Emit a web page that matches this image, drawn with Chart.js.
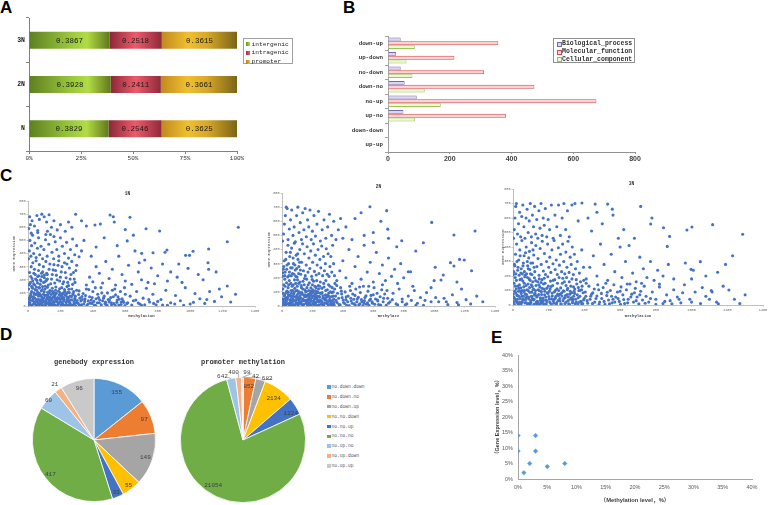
<!DOCTYPE html>
<html>
<head>
<meta charset="utf-8">
<script src="https://cdn.jsdelivr.net/npm/chart.js"></script>
<style>
body { margin: 0; background: #fff; }
#wrap { position: relative; width: 778px; height: 505px; overflow: hidden; font-family: "Liberation Mono", monospace; }
canvas { position: absolute; }
.tag { position: absolute; font: bold 17px "Liberation Sans", Arial, sans-serif; color: #000; }
.leg { position: absolute; box-sizing: border-box; }
.leg div { position: absolute; white-space: nowrap; }
.leg span { position: absolute; box-sizing: border-box; }
</style>
</head>
<body>
<div id="wrap">
  <div class="tag" style="left:0;top:-2px">A</div>
  <div class="tag" style="left:343px;top:-2px">B</div>
  <div class="tag" style="left:0;top:166px">C</div>
  <div class="tag" style="left:0;top:325px">D</div>
  <div class="tag" style="left:491px;top:328px">E</div>

  <canvas id="cA" width="300" height="165" style="left:0;top:0"></canvas>
  <canvas id="cB" width="300" height="165" style="left:345px;top:0"></canvas>
  <canvas id="c1" width="262" height="142" style="left:0;top:178px"></canvas>
  <canvas id="c2" width="240" height="145" style="left:262px;top:175px"></canvas>
  <canvas id="c3" width="278" height="150" style="left:500px;top:170px"></canvas>
  <canvas id="cD1" width="144" height="155" style="left:22px;top:350px"></canvas>
  <canvas id="cD2" width="146" height="155" style="left:170px;top:350px"></canvas>
  <canvas id="cE" width="298" height="165" style="left:480px;top:340px"></canvas>

  <div id="legA" class="leg" style="left:243px;top:38px;width:50px;height:26px;border:1px solid #a0a0a0"></div>
  <div id="legB" class="leg" style="left:553px;top:38px;width:82px;height:25px;border:1px solid #909090"></div>
  <div id="legD" class="leg" style="left:326px;top:383px;width:60px;height:90px"></div>
</div>
<script>
const MONO = '"Liberation Mono", "DejaVu Sans Mono", monospace';
const SANS = '"Liberation Sans", Arial, sans-serif';

// ---- A: methylation distribution ----
const aCats = ['3N', '2N', 'N'];
const aSeries = ['intergenic', 'intragenic', 'promoter'];
const aIntergenic = [0.3867, 0.3928, 0.3829];
const aIntragenic = [0.2518, 0.2411, 0.2546];
const aPromoter = [0.3615, 0.3661, 0.3625];
const aTicks = ['0%', '25%', '50%', '75%', '100%'];

// ---- B: GO terms ----
const bCats = ['down-up', 'up-down', 'no-down', 'down-no', 'no-up', 'up-no', 'down-down', 'up-up'];
const bSeries = ['Biological_process', 'Molecular_function', 'Cellular_component'];
const bBio = [41, 26, 41, 54, 93, 50, 0, 0];
const bMol = [357, 215, 311, 474, 675, 382, 0, 4];
const bCel = [87, 60, 79, 119, 171, 87, 0, 0];

// ---- C: methylation vs expression ----
const pts1N = [
[5,10],[12,25],[20,5],[28,40],[35,18],[42,60],[50,8],[58,32],[65,75],[72,12],[80,48],[88,22],[95,90],[102,6],[110,38],[118,65],[125,15],[132,102],[140,44],[148,8],[155,70],[162,28],[170,120],[178,52],[185,10],[192,85],[200,35],[208,140],[215,18],[222,62],[230,5],[238,95],[245,40],[252,128],[260,20],[268,72],[275,8],[282,110],[290,45],[298,25],
[8,55],[15,80],[22,110],[30,135],[38,92],[45,125],[52,145],[60,105],[68,138],[75,88],[82,115],[90,148],[98,60],[105,130],[112,82],[120,142],[128,50],[135,118],[142,88],[150,135],[158,102],[165,58],[172,145],[180,30],[188,112],[195,132],[202,78],[210,55],[218,100],[225,125],[232,82],[240,148],[248,60],[255,102],[262,45],[270,130],[278,88],[285,15],[292,75],[300,120],
[3,30],[10,65],[18,95],[25,140],[33,72],[40,30],[48,88],[55,50],[62,15],[70,95],[78,28],[85,68],[92,40],[100,108],[108,20],[115,52],[122,85],[130,30],[138,65],[145,25],[152,95],[160,12],[168,85],[175,40],[182,65],[190,22],[198,55],[205,10],[212,90],[220,40],[228,110],[235,28],[242,68],[250,8],
[2,2],[7,18],[14,45],[19,70],[26,8],[31,55],[37,100],[44,15],[49,38],[54,90],[61,4],[67,50],[73,30],[79,78],[86,10],[91,58],[97,35],[104,80],[109,3],[114,28],[121,105],[127,70],[133,6],[139,20],[146,55],[151,112],[157,38],[163,75],[169,5],[174,98],[181,48],[187,15],[193,60],[199,100],[206,28],[211,72],[217,6],[223,45],[229,85],[236,12],[241,50],[247,105],[253,30],[259,75],[265,3],[271,48],[277,95],[283,32],[289,60],[295,2],[303,42],[312,88],[318,5],[326,38],[333,72],[344,15],[352,55],[363,3],[372,40],[384,22],[396,65],[406,35],[418,4],[428,25],[442,48],[452,10],[466,60],[478,30],[488,5],[502,45],[514,25],[526,70],[538,5],[548,28],[562,52],[574,12],[586,40],[598,3],[615,25],[640,8],[665,45],[680,22],[720,10],[745,50],[775,20],[800,35],[830,8],[905,15],[960,5],[1020,28],
[4,130],[11,170],[17,225],[23,150],[29,190],[36,250],[41,160],[47,205],[53,120],[59,175],[66,230],[71,140],[77,200],[83,250],[89,125],[96,180],[101,215],[107,150],[113,195],[119,240],
[310,20],[320,60],[330,10],[340,95],[350,35],[360,130],[370,15],[380,70],[390,45],[400,110],[410,8],[420,55],[430,90],[440,25],[450,140],[460,40],[470,75],[480,12],[490,100],[500,30],[510,65],[520,120],[530,18],[540,85],[550,45],[560,8],[570,110],[580,55],[590,28],[600,90],[315,115],[335,50],[355,80],[375,125],[395,20],[415,140],[435,65],[455,100],[475,20],[495,50],[515,10],[535,130],[555,70],[575,30],[595,140],
[5,160],[15,180],[25,210],[35,170],[45,240],[55,195],[65,270],[75,165],[85,225],[95,300],[105,185],[115,250],[125,160],[135,320],[145,205],[155,275],[165,175],[175,235],[185,310],[195,190],[205,260],[215,170],[225,330],[235,215],[245,180],[255,290],[265,240],[275,165],[285,205],[295,270],[10,255],[20,300],[30,330],[40,280],[50,345],[60,225],[70,315],[80,190],[90,260],[100,235],[110,340],[120,205],[130,280],[140,170],[150,240],[160,315],[170,270],[180,200],[190,345],[200,220],[210,300],[220,185],[230,255],[240,320],[250,155],[260,205],[270,340],[280,255],[290,180],[300,310],
[3,360],[8,420],[12,500],[18,380],[22,460],[28,540],[35,400],[42,480],[50,370],[58,440],[65,520],[72,390],[80,455],[90,360],[98,430],[108,505],[118,380],[128,470],[138,545],[148,410],[158,360],[168,490],[178,430],[190,380],[200,520],[212,455],[225,400],[238,485],[250,365],[262,430],[275,510],[288,390],[300,460],[315,375],[330,420],[345,500],[20,555],[60,560],[110,545],[160,530],
[5,590],[15,620],[25,650],[40,610],[55,690],[70,660],[85,700],[100,680],[115,640],[130,695],[145,600],[160,650],[180,580],[200,620],[230,570],[250,640],[270,600],[294,699],[330,650],[360,610],[413,617],[446,625],[120,570],[60,575],[10,680],
[360,160],[380,220],[400,185],[420,300],[440,250],[460,175],[480,340],[500,210],[520,280],[540,160],[560,380],[580,240],[600,190],[620,310],[640,165],[660,420],[680,260],[700,200],[720,350],[740,180],[760,290],[780,170],[800,230],[830,320],[860,190],[880,260],[506,693],[526,680],[532,640],[600,582],[612,496],[629,676],[701,401],[686,330],[728,589],[771,406],[812,571],[845,410],[857,427],[420,450],[470,520],[390,380],[550,460],[650,540],
[610,20],[630,75],[650,40],[670,110],[690,15],[710,60],[730,135],[750,30],[770,90],[790,10],[820,50],[850,120],[880,25],[910,80],[940,40],[970,140],[1000,15],[1030,95],[1060,55],[1090,20],[1120,110],[1150,35],[1180,130],[1194,71],[1229,152],[1103,50],[1250,30],[1280,90],[700,5],[860,5],
[1297,600],[1229,490],[1114,434],[1114,280],[1110,330],[1018,417],[972,386],[996,386],[987,287],[920,220],[950,180],[1050,240],[1080,200],[1160,260],[930,320]
];
const pts2N = [
[4,8],[10,35],[16,70],[22,12],[28,95],[34,48],[40,130],[46,20],[52,75],[58,160],[64,5],[70,110],[76,42],[82,185],[88,66],[94,18],[100,140],[106,88],[112,30],[118,170],[124,55],[130,10],[136,120],[142,78],[148,195],[154,36],[160,102],[166,8],[172,150],[178,62],[184,25],[190,128],[196,90],[202,15],[208,175],[214,50],[220,108],[226,4],[232,70],[238,145],[244,30],[250,92],[256,12],[262,125],[268,55],[274,160],[280,22],[286,80],[292,40],[298,115],[304,8],[310,68],[316,140],[322,30],[328,95],[334,14],[340,50],[346,120],
[6,120],[12,150],[18,190],[24,55],[30,165],[36,15],[42,80],[48,180],[54,25],[60,110],[66,140],[72,70],[78,10],[84,125],[90,160],[96,45],[102,185],[108,60],[114,100],[120,20],[126,145],[132,85],[138,175],[144,40],[150,115],[156,65],[162,190],[168,28],[174,82],[180,165],[186,45],[192,105],[198,188],[204,70],[210,25],[216,140],[222,88],[228,180],[234,42],[240,120],[246,62],[252,170],[258,35],[264,95],[270,10],[276,135],[282,58],[288,180],[294,18],[300,75],[306,150],[312,35],[318,100],[324,5],[330,130],[336,70],[342,25],[348,160],
[2,50],[8,90],[14,20],[20,140],[26,30],[32,105],[38,60],[44,150],[50,5],[56,45],[62,90],[68,30],[74,150],[80,95],[86,5],[92,108],[98,75],[104,20],[110,160],[116,50],[122,90],[128,130],[134,35],[140,5],[146,150],[152,80],[158,20],[164,130],[170,45],[176,110],[182,5],[188,75],[194,35],[200,150],[206,100],[212,10],[218,65],[224,130],[230,32],[236,95],[242,8],[248,140],
[3,3],[8,22],[13,48],[18,80],[24,6],[29,36],[35,62],[41,98],[47,12],[53,40],[59,68],[65,25],[71,52],[77,85],[83,4],[89,32],[95,60],[101,110],[107,8],[113,45],[119,72],[125,28],[131,95],[137,50],[143,12],[149,65],[155,102],[161,40],[167,75],[173,18],[179,48],[185,90],[191,6],[197,58],[203,115],[209,38],[215,82],[221,22],[227,55],[233,100],[239,5],[245,68],[251,40],[257,88],[263,28],[269,72],[275,3],[281,45],[287,110],[293,62],[299,25],[307,92],[313,48],[319,15],[325,65],[331,38],[337,100],[343,6],[352,70],[362,25],[372,55],[382,8],[392,85],[402,42],[412,18],[422,65],[432,30],[442,4],[452,55],[462,20],[472,48],[482,6],[492,30],[502,62],[512,15],[522,45],[532,3],[542,38],[552,72],[562,22],[572,5],[582,50],[592,30],[610,12],[628,42],[648,6],[668,55],[700,20],[725,45],[760,8],[790,30],[820,15],[880,5],[940,40],[1080,30],[1160,8],
[5,235],[12,280],[18,215],[25,330],[31,260],[37,205],[43,300],[49,240],[55,380],[61,215],[67,270],[73,340],[79,225],[85,290],[91,210],[97,265],[103,370],[109,230],[115,310],[121,255],
[355,40],[365,90],[375,10],[385,130],[395,60],[405,25],[415,100],[425,5],[435,70],[445,140],[455,35],[465,85],[475,15],[485,120],[495,50],[505,8],[515,95],[525,30],[535,140],[545,60],[555,12],[565,105],[575,40],[585,75],[595,20],[605,130],[615,50],[625,90],[635,10],[645,65],[655,115],[665,30],[675,85],[685,5],[695,55],[360,145],[390,105],[420,45],[450,110],[480,75],[510,135],[540,20],[570,140],[600,80],[630,35],[660,150],[690,110],
[3,210],[9,260],[15,320],[21,240],[27,380],[33,290],[39,430],[45,215],[51,350],[57,270],[63,410],[69,230],[75,300],[81,445],[87,255],[93,360],[99,205],[105,330],[111,280],[117,400],[123,225],[129,310],[135,440],[141,250],[147,370],[153,215],[159,290],[165,420],[171,240],[177,340],[183,265],[189,390],[195,210],[201,310],[207,440],[213,245],[219,360],[225,220],[231,290],[237,400],[243,230],[249,330],[255,270],[261,425],[267,215],[273,350],[279,250],[285,300],[291,405],[297,225],[303,370],[309,210],[315,280],[321,350],[327,240],[333,430],[339,300],[345,215],
[4,460],[10,510],[16,580],[22,640],[28,700],[34,690],[40,470],[48,545],[56,610],[64,680],[72,500],[80,560],[88,455],[96,640],[104,700],[112,520],[120,590],[128,470],[136,660],[144,540],[152,690],[160,490],[168,610],[176,560],[184,680],[192,470],[200,530],[210,640],[220,495],[230,580],[240,670],[252,460],[264,540],[276,610],[288,480],[300,560],[312,650],[326,500],[340,600],[355,470],[370,540],[385,620],[400,480],[578,703],[688,675],[695,544],
[360,180],[380,250],[400,320],[420,200],[440,400],[460,160],[480,280],[500,350],[520,190],[540,430],[560,240],[580,310],[600,170],[620,380],[640,230],[660,290],[680,180],[700,340],[720,210],[740,260],[760,160],[780,300],[800,200],[754,420],[787,462],[830,243],[845,243],[879,389],[929,448],[420,560],[480,620],[540,500],[600,450],[650,600],[460,470],[520,660],[600,520],[700,480],
[710,30],[730,90],[750,15],[770,120],[790,50],[810,8],[830,70],[850,40],[870,110],[890,20],[910,60],[930,5],[950,95],[980,30],[1010,60],[1030,30],[1045,184],[1065,55],[1090,10],[1120,80],[1150,25],[1180,120],[1210,45],[1240,15],[1280,70],[1320,30],[860,140],[980,130],
[1269,531],[1198,326],[1167,330],[1130,503],[1130,283],[1107,307],[1246,250],[984,592],[1007,274],[1000,180],[1060,220],[1150,170]
];
const pts3N = [
[3,12],[9,45],[15,85],[21,20],[27,130],[33,60],[39,175],[45,8],[51,100],[57,40],[63,150],[69,75],[75,15],[81,190],[87,55],[93,120],[99,30],[105,88],[111,160],[117,5],[123,68],[129,135],[135,25],[141,105],[147,180],[153,50],[159,92],[165,12],[171,145],[177,70],[183,35],[189,115],[195,195],[201,58],[207,18],[213,128],[219,82],[225,170],[231,40],[237,100],[243,8],[249,150],[255,65],[261,28],[267,118],[273,85],[279,185],[285,45],[291,10],[297,135],[303,72],[309,30],[315,160],[321,95],[327,50],[333,15],[339,125],[345,80],[351,40],[357,145],[363,5],[369,100],[375,60],[381,25],[387,130],[393,85],[399,45],
[6,150],[12,190],[18,110],[24,65],[30,5],[36,140],[42,95],[48,180],[54,35],[60,125],[66,195],[72,50],[78,105],[84,145],[90,12],[96,170],[102,60],[108,128],[114,35],[120,188],[126,100],[132,8],[138,160],[144,72],[150,125],[156,20],[162,175],[168,48],[174,110],[180,150],[186,8],[192,85],[198,130],[204,95],[210,165],[216,42],[222,135],[228,12],[234,175],[240,60],[246,112],[252,30],[258,190],[264,75],[270,5],[276,150],[282,98],[288,160],[294,65],[300,190],[306,115],[312,8],[318,75],[324,130],[330,180],[336,40],[342,95],[348,10],[354,175],[360,70],[366,120],[372,20],[378,160],[384,105],[390,10],[396,170],
[1,75],[7,5],[13,130],[19,170],[25,40],[31,95],[37,20],[43,118],[49,60],[55,165],[61,90],[67,15],[73,135],[79,55],[85,100],[91,180],[97,8],[103,140],[109,45],[115,110],[121,75],[127,168],[133,55],[139,20],[145,140],[151,5],[157,155],[163,115],[169,30],[175,185],
[2,25],[5,55],[10,95],[16,30],[22,70],[28,10],[34,115],[40,45],[46,80],[52,20],[58,60],[64,100],[70,35],[76,72],[82,5],[88,42],[94,88],[100,15],[106,58],[112,105],[118,40],[124,80],[130,18],[136,62],[142,5],[148,98],[154,32],[160,72],[166,45],[172,8],[178,95],[184,55],[190,25],[196,80],[202,40],[208,110],[214,5],[220,62],[226,28],[232,90],[238,48],[244,15],[250,75],[256,100],[262,45],[268,8],[274,62],[280,30],[286,95],[292,52],[298,20],[304,105],[310,55],[316,5],[322,40],[328,85],[334,28],[340,60],[346,110],[355,20],[365,50],[375,100],[385,8],[395,35],[408,60],[418,12],[432,40],[447,85],[458,20],[470,62],[482,5],[497,45],[510,25],[528,88],[540,8],[552,60],[570,20],[588,45],[602,5],[620,38],[642,15],[660,55],[690,30],[710,70],[740,12],[770,45],[800,5],[850,25],[890,8],[930,40],[1000,20],[1100,40],[1150,8],
[4,230],[10,270],[16,215],[22,300],[28,260],[34,205],[40,340],[46,250],[52,215],[58,290],[64,230],[70,360],[76,215],[82,270],[88,325],[94,245],[100,290],[106,210],[112,380],[118,260],
[405,90],[415,30],[425,130],[435,60],[445,10],[455,110],[465,45],[475,140],[485,20],[495,80],[505,120],[515,5],[525,65],[535,35],[545,100],[555,15],[565,140],[575,55],[585,90],[595,25],[605,125],[615,70],[625,10],[635,105],[645,40],[655,145],[665,75],[675,20],[685,115],[695,55],[705,8],[715,95],[725,35],[735,130],[745,60],[410,150],[440,75],[480,105],[520,150],[560,40],[600,95],[640,145],[680,85],[720,150],
[2,210],[8,280],[14,350],[20,420],[26,240],[32,310],[38,380],[44,220],[50,445],[56,270],[62,340],[68,205],[74,400],[80,300],[86,250],[92,370],[98,215],[104,430],[110,290],[116,345],[122,230],[128,410],[134,265],[140,320],[146,205],[152,390],[158,280],[164,440],[170,235],[176,355],[182,210],[188,300],[194,420],[200,260],[206,330],[212,225],[218,380],[224,285],[230,445],[236,245],[242,310],[248,210],[254,395],[260,275],[266,350],[272,230],[278,420],[284,300],[290,215],[296,365],[302,260],[308,440],[314,225],[320,330],[326,280],[332,400],[338,210],[344,350],[350,250],[360,300],[372,220],[385,380],[395,260],
[3,460],[7,520],[11,600],[15,680],[19,700],[25,490],[31,560],[37,640],[43,470],[49,610],[55,690],[61,540],[67,460],[73,600],[79,660],[85,500],[91,580],[97,700],[103,470],[109,620],[115,540],[121,680],[127,490],[133,590],[139,460],[145,650],[151,530],[157,700],[163,480],[169,600],[175,550],[181,665],[189,470],[197,590],[205,520],[215,690],[225,460],[235,620],[245,540],[255,690],[265,480],[275,600],[285,700],[295,520],[305,650],[315,470],[330,690],[347,700],[365,580],[386,703],[460,696],[530,696],[556,661],
[410,180],[430,260],[450,340],[470,200],[490,420],[510,280],[530,170],[550,350],[570,230],[590,460],[610,190],[630,300],[650,410],[670,220],[690,160],[710,330],[730,250],[750,190],[770,300],[790,170],[810,240],[840,200],[870,280],[900,180],[715,680],[778,600],[771,559],[843,533],[877,473],[864,404],[440,510],[500,560],[560,620],[620,520],[680,460],[470,640],[600,400],[420,600],
[760,20],[780,90],[800,40],[820,125],[840,10],[860,70],[880,30],[900,105],[920,55],[940,15],[960,140],[990,40],[1020,90],[1050,10],[1080,60],[1110,100],[1115,90],[1140,20],[1177,130],[1209,103],[1240,40],[1270,10],[1300,70],[820,145],[950,85],[1060,120],
[1286,488],[1118,554],[1002,538],[974,517],[1049,299],[997,246],[1010,240],[1146,226],[965,290],[1000,180],[1080,200],[1190,280],[1230,340]
];

// ---- D: pie counts ----
const dCats = ['no.down.down', 'no.down.no', 'no.down.up', 'no.no.down', 'no.no.up', 'no.no.no', 'no.up.no', 'no.up.down', 'no.up.up'];
const dGenebody = [155, 97, 149, 55, 33, 417, 60, 21, 96];
const dPromoter = [42, 852, 682, 2134, 1224, 21054, 642, 400, 98];
const dColors = ['#5b9bd5', '#ed7d31', '#a5a5a5', '#ffc000', '#4472c4', '#70ad47', '#9dc3e6', '#f4b183', '#c9c9c9'];

// ---- E: methylation level vs expression level (%) ----
const eMeth = [0, 0, 1, 2, 3, 3, 5, 8];
const eExpr = [14, 9, 2, 5, 14, 9, 4, 5];

Chart.defaults.animation = false;
Chart.defaults.responsive = false;
Chart.defaults.font.family = MONO;
Chart.defaults.color = '#333';
Chart.defaults.plugins.legend.display = false;
Chart.defaults.plugins.tooltip.enabled = false;

// horizontal gradient across one stacked segment
function segGrad(stops) {
  return function (c) {
    const ch = c.chart, xs = ch.scales.x;
    if (c.type !== 'data' || !ch.chartArea || !xs) return stops[1][1];
    let start = 0;
    for (let d = 0; d < c.datasetIndex; d++) start += ch.data.datasets[d].data[c.dataIndex];
    const x0 = xs.getPixelForValue(start), x1 = xs.getPixelForValue(start + c.raw);
    const g = ch.ctx.createLinearGradient(x0, 0, x1, 0);
    stops.forEach(s => g.addColorStop(s[0], s[1]));
    return g;
  };
}
const greenStops = [[0, '#5d7f22'], [0.5, '#98c63a'], [0.72, '#b2dc46'], [1, '#62781c']];
const redStops = [[0, '#8a2838'], [0.5, '#ee5a6a'], [1, '#8e2a3a']];
const goldStops = [[0, '#c08a20'], [0.35, '#f0c030'], [0.6, '#d8a828'], [1, '#7c6418']];

const barText = {
  id: 'barText',
  afterDatasetsDraw(chart) {
    const ctx = chart.ctx;
    ctx.save();
    ctx.font = '7.5px ' + MONO;
    ctx.fillStyle = '#1a1a1a';
    ctx.textAlign = 'center';
    ctx.textBaseline = 'middle';
    chart.data.datasets.forEach((ds, i) => {
      chart.getDatasetMeta(i).data.forEach((el, j) => {
        ctx.fillText(ds.data[j].toFixed(4), (el.x + el.base) / 2, el.y + 0.5);
      });
    });
    ctx.restore();
  }
};

new Chart(document.getElementById('cA'), {
  type: 'bar',
  data: {
    labels: aCats,
    datasets: [
      { label: aSeries[0], data: aIntergenic, backgroundColor: segGrad(greenStops) },
      { label: aSeries[1], data: aIntragenic, backgroundColor: segGrad(redStops) },
      { label: aSeries[2], data: aPromoter, backgroundColor: segGrad(goldStops) }
    ]
  },
  options: {
    indexAxis: 'y',
    layout: { padding: { top: 18, right: 63, left: 0, bottom: 0 } },
    datasets: { bar: { categoryPercentage: 1, barPercentage: 0.385 } },
    scales: {
      x: {
        stacked: true, min: 0, max: 1,
        ticks: { stepSize: 0.25, callback: (v, i) => aTicks[i], font: { size: 6 }, color: '#333', padding: 1 },
        grid: { drawOnChartArea: false, tickLength: 3, color: '#808080' },
        border: { color: '#808080' },
        afterFit: s => { s.height = 14; }
      },
      y: {
        stacked: true,
        ticks: { font: { size: 6.5, weight: 'bold' }, color: '#222', padding: 1 },
        grid: { drawOnChartArea: false, tickLength: 3, color: '#808080' },
        border: { color: '#808080' },
        afterFit: s => { s.width = 29; }
      }
    }
  },
  plugins: [barText]
});

new Chart(document.getElementById('cB'), {
  type: 'bar',
  data: {
    labels: bCats,
    datasets: [
      { label: bSeries[0], data: bBio, backgroundColor: '#dcd4f4', borderColor: '#7868a8', borderWidth: 0.8 },
      { label: bSeries[1], data: bMol, backgroundColor: '#fad4d4', borderColor: '#d84848', borderWidth: 0.8 },
      { label: bSeries[2], data: bCel, backgroundColor: '#ecf8d0', borderColor: '#98c458', borderWidth: 0.8 }
    ]
  },
  options: {
    indexAxis: 'y',
    layout: { padding: { top: 36, right: 10, left: 0, bottom: 0 } },
    datasets: { bar: { categoryPercentage: 0.78, barPercentage: 1 } },
    scales: {
      x: {
        min: 0, max: 800,
        ticks: { stepSize: 200, font: { family: SANS, size: 7, weight: 'bold' }, color: '#404040', padding: 1 },
        grid: { drawOnChartArea: false, tickLength: 2, color: '#909090' },
        border: { color: '#909090' },
        afterFit: s => { s.height = 13; }
      },
      y: {
        ticks: { font: { size: 5.8, weight: 'bold' }, color: '#333', padding: 2 },
        grid: { drawOnChartArea: false, tickLength: 3, color: '#a0a0a0' },
        border: { color: '#a0a0a0' },
        afterFit: s => { s.width = 43; }
      }
    }
  }
});

function makeScatter(id, pts, title, xTitle, lay) {
  new Chart(document.getElementById(id), {
    type: 'scatter',
    data: { datasets: [{ data: pts.map(p => ({ x: p[0], y: p[1] })), backgroundColor: '#4472c4', borderWidth: 0, pointRadius: 1.55 }] },
    options: {
      layout: { padding: { top: 0, right: lay.right, left: 0, bottom: 0 } },
      plugins: {
        title: { display: true, text: title, font: { size: 4.5, weight: 'bold' }, color: '#333', padding: { top: lay.tTop, bottom: lay.tBot } }
      },
      scales: {
        x: {
          min: 0, max: 1400,
          ticks: { stepSize: 200, callback: v => String(v), font: { size: 3.5 }, color: '#666', padding: 1 },
          grid: { drawOnChartArea: false, tickLength: 1.5, color: '#c8c8c8' },
          border: { color: '#bfbfbf' },
          title: { display: true, text: xTitle, font: { size: 4, weight: 'bold' }, color: '#444', padding: { top: 0, bottom: 1.6 } },
          afterFit: s => { s.height = lay.xh; }
        },
        y: {
          min: 0, max: 800,
          ticks: { stepSize: 100, callback: v => String(v), font: { size: 3.5 }, color: '#666', padding: 1 },
          grid: { drawOnChartArea: false, tickLength: 1.5, color: '#c8c8c8' },
          border: { color: '#bfbfbf' },
          title: { display: true, text: 'Gene Expression', font: { size: 4 }, color: '#444', padding: { top: lay.yt, bottom: 0 } },
          afterFit: s => { s.width = lay.yw; }
        }
      }
    }
  });
}
makeScatter('c1', pts1N, '1N', 'methylation', { right: 7, tTop: 13, tBot: 4.6, xh: 14, yw: 28, yt: 11.6 });
makeScatter('c2', pts2N, '2N', 'methylate', { right: 7, tTop: 9, tBot: 3.6, xh: 14, yw: 20, yt: 4.9 });
makeScatter('c3', pts3N, '3N', 'methylation', { right: 15, tTop: 11, tBot: 2.6, xh: 15, yw: 13, yt: 0.9 });

const pieText = {
  id: 'pieText',
  afterDatasetsDraw(chart, args, opts) {
    const ctx = chart.ctx;
    const vals = chart.data.datasets[0].data;
    ctx.save();
    ctx.font = '6px ' + MONO;
    ctx.fillStyle = '#404040';
    ctx.strokeStyle = '#808080';
    ctx.lineWidth = 0.6;
    ctx.textAlign = 'center';
    ctx.textBaseline = 'middle';
    chart.getDatasetMeta(0).data.forEach((arc, i) => {
      const mid = (arc.startAngle + arc.endAngle) / 2;
      const a = mid + (opts.shift[i] || 0) * Math.PI / 180;
      const r = arc.outerRadius * opts.radius[i];
      const x = arc.x + Math.cos(a) * r, y = arc.y + Math.sin(a) * r;
      if (opts.leader && opts.radius[i] > 1) {
        ctx.beginPath();
        ctx.moveTo(arc.x + Math.cos(mid) * arc.outerRadius, arc.y + Math.sin(mid) * arc.outerRadius);
        ctx.lineTo(x + 5, y + 1);
        ctx.stroke();
      }
      ctx.fillText(vals[i], x, y);
    });
    ctx.restore();
  }
};

function makePie(id, values, title, lay, lab) {
  new Chart(document.getElementById(id), {
    type: 'pie',
    data: { labels: dCats, datasets: [{ data: values, backgroundColor: dColors, borderColor: '#fff', borderWidth: 0.8 }] },
    options: {
      layout: { padding: { left: 10, right: 10, top: 0, bottom: lay.bottom } },
      plugins: {
        title: { display: true, text: title, font: { size: 7, weight: 'bold' }, color: '#333', padding: { top: 8, bottom: lay.tBot } },
        pieText: lab
      }
    },
    plugins: [pieText]
  });
}
makePie('cD1', dGenebody, 'genebody expression', { bottom: 3, tBot: 11.6 },
  { radius: [0.85, 0.88, 0.88, 0.92, 0.92, 0.9, 0.98, 1.1, 0.87], shift: [0, 0, 0, 0, 0, 0, 0, 0, 0], leader: false });
makePie('cD2', dPromoter, 'promoter methylation', { bottom: 2, tBot: 10.6 },
  { radius: [1.03, 0.86, 1.06, 0.83, 0.87, 0.87, 1.07, 1.09, 1.08], shift: [11, 0, 5, 1, 4, 8, -7, -4, 4], leader: true });

new Chart(document.getElementById('cE'), {
  type: 'scatter',
  data: { datasets: [{ data: eMeth.map((m, i) => ({ x: m, y: eExpr[i] })), backgroundColor: '#5b9bd5', borderColor: '#5b9bd5', pointStyle: 'rectRot', pointRadius: 2.3, borderWidth: 0.5 }] },
  options: {
    layout: { padding: { top: 15, right: 26, left: 0, bottom: 0 } },
    scales: {
      x: {
        min: 0, max: 40,
        ticks: { stepSize: 5, callback: v => v + '%', font: { family: SANS, size: 5.5 }, color: '#595959', padding: 5 },
        grid: { display: false, drawTicks: false },
        border: { color: '#a6a6a6' },
        title: { display: true, text: '（Methylation level，%）', font: { family: SANS + ', "Noto Sans CJK SC"', size: 5.8, weight: 'bold' }, color: '#404040', padding: { top: 0, bottom: 1.4 } },
        afterFit: s => { s.height = 26; }
      },
      y: {
        min: 0, max: 40,
        ticks: { stepSize: 5, callback: v => v + '%', font: { family: SANS, size: 5.5 }, color: '#595959', padding: 5 },
        grid: { display: false, drawTicks: false },
        border: { color: '#a6a6a6' },
        title: { display: true, text: '（Gene Expression level，%）', font: { family: SANS + ', "Noto Sans CJK SC"', size: 5.5, weight: 'bold' }, color: '#404040', padding: { top: 13.7, bottom: 0 } },
        afterFit: s => { s.width = 38; }
      }
    }
  }
});

// ---- HTML legends ----
function buildLegend(id, items, opt) {
  const box = document.getElementById(id);
  items.forEach((it, i) => {
    const y = opt.top + i * opt.step;
    const sq = document.createElement('span');
    sq.style.cssText = `left:${opt.sqLeft}px;top:${y - opt.sq / 2}px;width:${opt.sq}px;height:${opt.sq}px;` + it.sq;
    box.appendChild(sq);
    const t = document.createElement('div');
    t.textContent = it.text;
    t.style.cssText = `left:${opt.txLeft}px;top:${y - opt.fs * 0.6}px;font:${opt.weight} ${opt.fs}px ${MONO};line-height:${opt.fs * 1.2}px;color:${opt.color};`;
    box.appendChild(t);
  });
}
buildLegend('legA', [
  { text: aSeries[0], sq: 'background:linear-gradient(90deg,#6d8e24,#b2dc46);' },
  { text: aSeries[1], sq: 'background:linear-gradient(90deg,#a03040,#ee5a6a);' },
  { text: aSeries[2], sq: 'background:linear-gradient(90deg,#b08020,#f0c030);' }
], { top: 5.3, step: 8.7, sq: 4, sqLeft: 2, txLeft: 7.5, fs: 6.2, weight: 'normal', color: '#222' });
buildLegend('legB', [
  { text: bSeries[0], sq: 'background:#dcd4f4;border:0.8px solid #7868a8;' },
  { text: bSeries[1], sq: 'background:#fad4d4;border:0.8px solid #d84848;' },
  { text: bSeries[2], sq: 'background:#ecf8d0;border:0.8px solid #98c458;' }
], { top: 5.3, step: 7.7, sq: 5, sqLeft: 2.5, txLeft: 8, fs: 6.5, weight: 'bold', color: '#333' });
buildLegend('legD', dCats.map((c, i) => ({ text: c, sq: 'background:' + dColors[i] + ';' })),
  { top: 4, step: 9.85, sq: 3.5, sqLeft: 1, txLeft: 5.5, fs: 4.6, weight: 'normal', color: '#595959' });
</script>
</body>
</html>
